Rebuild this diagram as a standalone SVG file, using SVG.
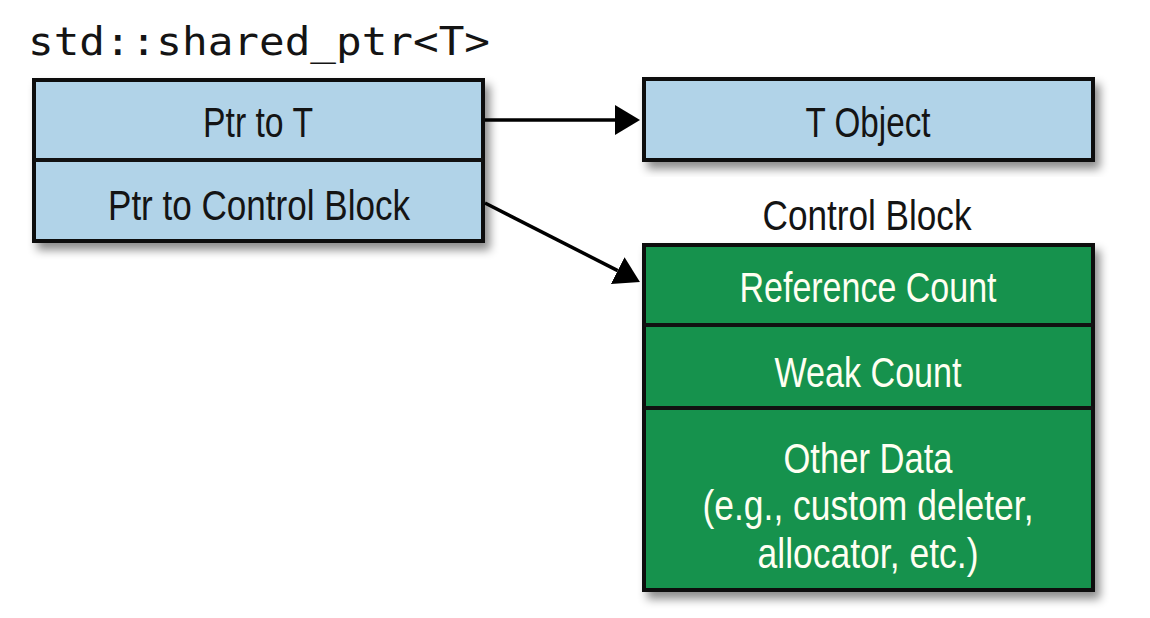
<svg xmlns="http://www.w3.org/2000/svg" width="1150" height="618" viewBox="0 0 1150 618">
<style>
.box{stroke:#111;stroke-width:4}
.blue{fill:#B1D3E8}
.green{fill:#17924D}
.div{stroke:#111;stroke-width:4}
.lbl{font-family:"Liberation Sans",Arial,sans-serif;font-size:43px;text-anchor:middle}
.dark{fill:#141414}
.light{fill:#FFFFF2}
.mono{font-family:"DejaVu Sans Mono","Liberation Mono",monospace;font-size:39px;fill:#141414}
.conn{stroke:#000;stroke-width:3.5;fill:none}
</style>
<defs>
<filter id="sh" x="-10%" y="-10%" width="125%" height="130%">
<feDropShadow dx="5" dy="7" stdDeviation="5" flood-color="#000" flood-opacity="0.45"/>
</filter>
<marker id="ah" viewBox="0 0 25 30" refX="0" refY="15" markerWidth="25" markerHeight="30" markerUnits="userSpaceOnUse" orient="auto">
<path d="M0,0 L25,15 L0,30 z" fill="#000"/>
</marker>
</defs>
<rect width="1150" height="618" fill="#fff"/>
<text class="mono" x="28" y="55" textLength="462" lengthAdjust="spacingAndGlyphs">std::shared_ptr&lt;T&gt;</text>
<g id="shared_ptr">
<rect class="box blue" x="34" y="80" width="449" height="161" filter="url(#sh)"/>
<line class="div" x1="34" y1="160" x2="483" y2="160"/>
<text class="lbl dark" x="258" y="137" textLength="110" lengthAdjust="spacingAndGlyphs">Ptr to T</text>
<text class="lbl dark" x="259" y="220" textLength="302" lengthAdjust="spacingAndGlyphs">Ptr to Control Block</text>
</g>
<g id="t_object">
<rect class="box blue" x="644" y="79" width="449" height="81" filter="url(#sh)"/>
<text class="lbl dark" x="868" y="137" textLength="125" lengthAdjust="spacingAndGlyphs">T Object</text>
</g>
<g id="control_block">
<text class="lbl dark" x="867" y="230" textLength="209" lengthAdjust="spacingAndGlyphs">Control Block</text>
<rect class="box green" x="644" y="245" width="449" height="345" filter="url(#sh)"/>
<line class="div" x1="644" y1="325" x2="1093" y2="325"/>
<line class="div" x1="644" y1="408" x2="1093" y2="408"/>
<text class="lbl light" x="868" y="302" textLength="257" lengthAdjust="spacingAndGlyphs">Reference Count</text>
<text class="lbl light" x="868" y="387" textLength="187" lengthAdjust="spacingAndGlyphs">Weak Count</text>
<text class="lbl light" x="868" y="473" textLength="169" lengthAdjust="spacingAndGlyphs">Other Data</text>
<text class="lbl light" x="868" y="520" textLength="331" lengthAdjust="spacingAndGlyphs">(e.g., custom deleter,</text>
<text class="lbl light" x="868" y="568" textLength="221" lengthAdjust="spacingAndGlyphs">allocator, etc.)</text>
</g>
<g id="connectors">
<line class="conn" x1="485" y1="120" x2="615" y2="120" marker-end="url(#ah)"/>
<line class="conn" x1="485" y1="203" x2="617.7" y2="270.6" marker-end="url(#ah)"/>
</g>
</svg>
